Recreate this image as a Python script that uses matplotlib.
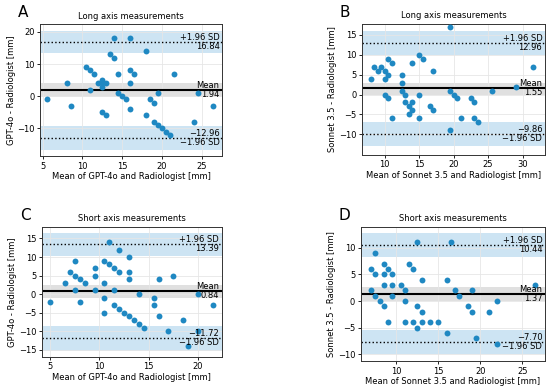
import numpy as np
import matplotlib
matplotlib.use("Agg")
import matplotlib.pyplot as plt
import matplotlib.transforms as mtransforms

# Panel A: GPT-4o long axis
a_x = [5.5, 8, 8.5, 10.5, 11, 11.5, 11, 12, 12.5, 12.5, 12.5, 13, 12.5, 13, 13.5, 14, 14,
       14.5, 14.5, 15, 15.5, 16, 16, 16.5, 16, 16, 18, 18, 18.5, 19, 19.5, 19, 19.5, 20,
       20.5, 21, 21.5, 24, 24.5, 26.5]
a_y = [-1, 4, -3, 9, 8, 7, 2, 4, 5, 4, 3, 4, -5, -6, 13, 12, 18,
       7, 1, 0, -1, 4, 8, 7, -4, 18, 14, -6, -1, -2, 1, -8, -9, -10,
       -11, -12, 7, -8, 1, -3]
a_stats = [1.94, 16.84, -12.96]          # mean, upper, lower
a_bands = [(-0.2, 4.0), (13.3, 20.4), (-16.6, -9.2)]

# Panel B: Sonnet 3.5 long axis
b_x = [8, 8.5, 9, 9.5, 10, 10, 10.5, 10.5, 11, 10, 10.5, 11, 12.5, 12.5, 12.5, 13, 13,
       13.5, 13.5, 14, 14, 14, 15, 15.5, 15, 15, 16.5, 17, 17, 19.5, 19.5, 20, 20.5, 21,
       19.5, 22.5, 23, 23, 23.5, 25.5, 29, 31.5]
b_y = [4, 7, 6, 7, 6, 4, 5, 9, 8, 0, -1, -6, 5, 3, 1, 0, -2,
       -3, -5, 8, -2, -4, 10, 9, 0, -6, -3, -4, 6, 17, 1, 0, -1, -6,
       -9, -1, -2, -6, -7, 1, 2, 7]
b_stats = [1.55, 12.96, -9.86]
b_bands = [(-0.2, 3.0), (10.0, 15.8), (-13.0, -7.0)]

# Panel C: GPT-4o short axis
c_x = [5, 6.5, 7, 7.5, 7.5, 7.5, 8, 8, 8.5, 9.5, 9.5, 9.5, 10.5, 10.5, 10.5, 10.5, 11,
       11, 11.5, 11.5, 11.5, 12, 12, 12, 12.5, 13, 13, 13, 13, 13.5, 14, 14, 14.5,
       15.5, 15.5, 16, 16, 17, 17.5, 18.5, 19, 20, 20, 21.5]
c_y = [-2, 3, 6, 9, 5, 1, 4, -2, 3, 7, 5, 1, 9, 3, -1, -5, 14,
       8, 7, 1, -3, 12, 6, -4, -5, 10, 6, 4, -6, -7, 0, -8, -9,
       -1, -3, 4, -6, -10, 5, -7, -14, 0, -10, -3]
c_stats = [0.84, 13.39, -11.72]
c_bands = [(-1.1, 2.5), (10.3, 16.6), (-15.4, -8.7)]

# Panel D: Sonnet 3.5 short axis
d_x = [7, 7, 7.5, 7.5, 7.5, 8, 8.5, 8.5, 8.5, 8.5, 9, 9, 9.5, 9.5, 9.5, 10.5, 11, 11,
       11, 11.5, 12, 12, 12.5, 12.5, 12.5, 13, 13, 13, 14, 15, 16, 16, 16.5, 17, 17.5,
       18.5, 19, 19, 19.5, 21, 22, 22, 26.5]
d_y = [6, 2, 9, 5, 1, 0, 7, 5, 3, -1, 6, -4, 5, 3, 1, 3, 2, 0,
       -4, 7, 6, -4, 11, -1, -5, -2, 4, -4, -4, -4, 4, -6, 11, 2, 1,
       -1, -2, 2, -7, -2, 0, -8, 3]
d_stats = [1.37, 10.44, -7.70]
d_bands = [(0.1, 2.6), (8.3, 12.7), (-10.0, -5.4)]

panels = [
    ("A", "Long axis measurements", "GPT-4o", a_x, a_y, a_stats, a_bands,
     [0.073, 0.600, 0.331, 0.338], (4.67, 27.6), (-18.6, 22.4), [5, 10, 15, 20, 25], [-10, 0, 10, 20]),
    ("B", "Long axis measurements", "Sonnet 3.5", b_x, b_y, b_stats, b_bands,
     [0.658, 0.603, 0.333, 0.336], (6.7, 33.25), (-15.1, 17.7), [10, 15, 20, 25, 30], [-10, -5, 0, 5, 10, 15]),
    ("C", "Short axis measurements", "GPT-4o", c_x, c_y, c_stats, c_bands,
     [0.076, 0.085, 0.327, 0.333], (4.15, 22.4), (-16.9, 18.1), [5, 10, 15, 20], [-15, -10, -5, 0, 5, 10, 15]),
    ("D", "Short axis measurements", "Sonnet 3.5", d_x, d_y, d_stats, d_bands,
     [0.656, 0.074, 0.335, 0.344], (5.75, 27.7), (-11.25, 13.9), [10, 15, 20, 25], [-10, -5, 0, 5, 10]),
]

dot = "#1f88c2"
band = "#cde4f3"
fs = 6

fig = plt.figure(figsize=(5.5, 3.9), dpi=100)
for letter, title, model, xs, ys, stats, bands, pos, xl, yl, xt, yt in panels:
    ax = fig.add_axes(pos)
    mean, hi, lo = stats
    ax.axhspan(*bands[0], color="#e0e0e0", lw=0, zorder=0)
    ax.axhspan(*bands[1], color=band, lw=0, zorder=0)
    ax.axhspan(*bands[2], color=band, lw=0, zorder=0)
    ax.grid(True, color="#e6e6e6", lw=0.6, zorder=0.5)
    ax.set_axisbelow(True)
    ax.scatter(xs, ys, s=18, color=dot, lw=0, zorder=3)
    ax.axhline(mean, color="k", lw=1.5, zorder=2)
    ax.axhline(hi, color="k", lw=1, ls=":", zorder=2)
    ax.axhline(lo, color="k", lw=1, ls=":", zorder=2)

    tr = mtransforms.blended_transform_factory(ax.transAxes, ax.transData)
    kw = dict(transform=tr, ha="right", fontsize=fs, zorder=4)
    ax.text(0.985, mean, "Mean", va="bottom", **kw)
    ax.text(0.985, mean, f"{mean:.2f}", va="top", **kw)
    ax.text(0.985, hi, "+1.96 SD", va="bottom", **kw)
    ax.text(0.985, hi, f"{hi:.2f}", va="top", **kw)
    ax.text(0.985, lo, f"{lo:.2f}".replace("-", "\u2212"), va="bottom", **kw)
    ax.text(0.985, lo, "\u22121.96 SD", va="top", **kw)

    ax.set_xlim(*xl)
    ax.set_ylim(*yl)
    ax.set_xticks(xt)
    ax.set_yticks(yt)
    ax.tick_params(labelsize=fs, length=2.5, width=0.6, pad=1.5)
    for s in ax.spines.values():
        s.set_linewidth(0.7)
        s.set_color("#333333")
    ax.set_title(title, fontsize=fs, pad=4)
    ax.set_xlabel(f"Mean of {model} and Radiologist [mm]", fontsize=fs, labelpad=1)
    ax.set_ylabel(f"{model} - Radiologist [mm]", fontsize=fs, labelpad=1)
    ax.text(-0.12, 1.03, letter, transform=ax.transAxes, fontsize=11, va="bottom", ha="left")

fig.savefig("out.png", dpi=100)
